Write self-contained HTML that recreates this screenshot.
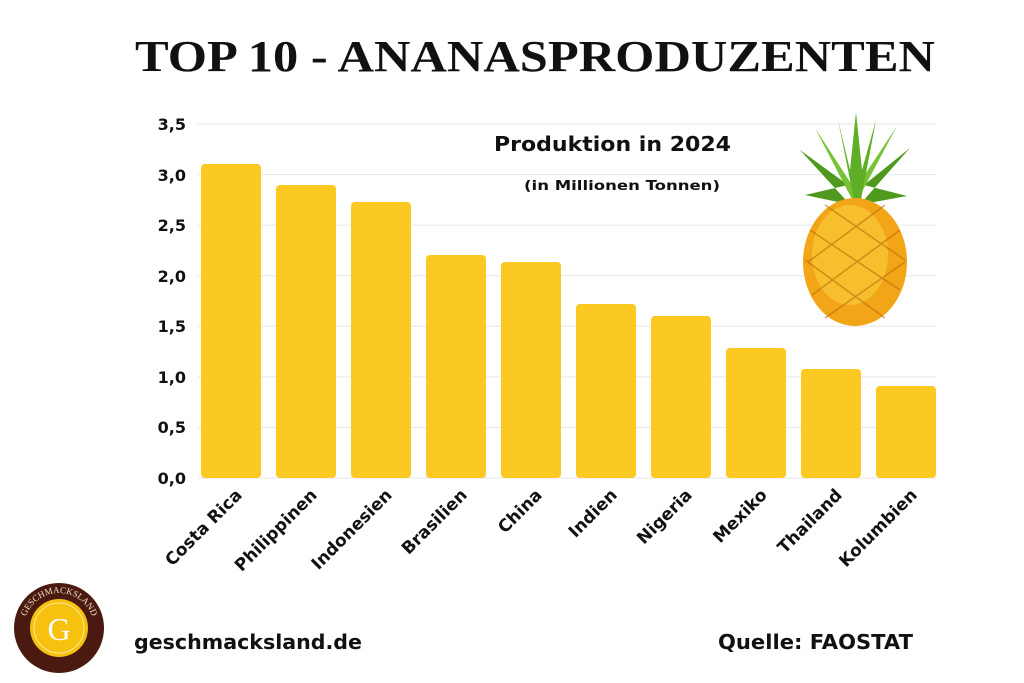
<!DOCTYPE html>
<html><head><meta charset="utf-8"><style>body{margin:0;background:#fff}svg{display:block}</style></head><body>
<svg width="1024" height="683" viewBox="0 0 1024 683" xmlns="http://www.w3.org/2000/svg" font-family="'DejaVu Sans','Liberation Sans',sans-serif">
<rect width="1024" height="683" fill="#fff"/>
<text x="135" y="71" font-family="'Liberation Serif',serif" font-weight="bold" font-size="44" textLength="800" lengthAdjust="spacingAndGlyphs" fill="#111">TOP 10 - ANANASPRODUZENTEN</text>
<g stroke="#e6e6e6" stroke-width="1">
<line x1="198" y1="124" x2="936" y2="124"/><line x1="198" y1="174.6" x2="936" y2="174.6"/><line x1="198" y1="225.1" x2="936" y2="225.1"/><line x1="198" y1="275.7" x2="936" y2="275.7"/><line x1="198" y1="326.3" x2="936" y2="326.3"/><line x1="198" y1="376.9" x2="936" y2="376.9"/><line x1="198" y1="427.4" x2="936" y2="427.4"/><line x1="198" y1="478" x2="936" y2="478"/>
</g>
<g font-weight="bold" font-size="16" fill="#111" text-anchor="end">
<text x="186" y="130">3,5</text><text x="186" y="181">3,0</text><text x="186" y="231">2,5</text><text x="186" y="282">2,0</text><text x="186" y="332">1,5</text><text x="186" y="383">1,0</text><text x="186" y="433">0,5</text><text x="186" y="484">0,0</text>
</g>
<g fill="#FCC922">
<rect x="201" y="164" width="60" height="314" rx="4"/>
<rect x="276" y="185" width="60" height="293" rx="4"/>
<rect x="351" y="202" width="60" height="276" rx="4"/>
<rect x="426" y="255" width="60" height="223" rx="4"/>
<rect x="501" y="262" width="60" height="216" rx="4"/>
<rect x="576" y="304" width="60" height="174" rx="4"/>
<rect x="651" y="316" width="60" height="162" rx="4"/>
<rect x="726" y="348" width="60" height="130" rx="4"/>
<rect x="801" y="369" width="60" height="109" rx="4"/>
<rect x="876" y="386" width="60" height="92" rx="4"/>
</g>
<g font-weight="bold" font-size="17" fill="#111" text-anchor="end">
<text transform="translate(243,496) rotate(-45)">Costa Rica</text>
<text transform="translate(318,496) rotate(-45)">Philippinen</text>
<text transform="translate(393,496) rotate(-45)">Indonesien</text>
<text transform="translate(468,496) rotate(-45)">Brasilien</text>
<text transform="translate(543,496) rotate(-45)">China</text>
<text transform="translate(618,496) rotate(-45)">Indien</text>
<text transform="translate(693,496) rotate(-45)">Nigeria</text>
<text transform="translate(768,496) rotate(-45)">Mexiko</text>
<text transform="translate(843,496) rotate(-45)">Thailand</text>
<text transform="translate(918,496) rotate(-45)">Kolumbien</text>
</g>
<text x="494" y="151" font-weight="bold" font-size="20" fill="#111" textLength="237" lengthAdjust="spacingAndGlyphs">Produktion in 2024</text>
<text x="524" y="190" font-weight="bold" font-size="13" fill="#111" textLength="196" lengthAdjust="spacingAndGlyphs">(in Millionen Tonnen)</text>
<!-- pineapple -->
<g>
<path d="M855 210 L800 150 L848 185 L805 195 L852 205Z" fill="#4f9a1e"/>
<path d="M855 210 L910 148 L864 185 L907 196 L858 205Z" fill="#4f9a1e"/>
<path d="M855 205 L815 128 L852 185Z M855 205 L897 126 L858 185Z" fill="#76c232"/>
<path d="M855 205 L838 120 L850 170 L856 112 L862 170 L876 120 L860 205Z" fill="#5fae27"/>
<ellipse cx="855" cy="262" rx="52" ry="64" fill="#f2a516"/>
<ellipse cx="850" cy="255" rx="38" ry="50" fill="#f8c535" opacity="0.8"/>
<g stroke="#b86a0a" stroke-width="1.5" fill="none" opacity="0.6">
<path d="M810 230 L900 290 M805 260 L885 318 M825 205 L905 260 M812 295 L900 230 M825 318 L905 262 M808 262 L885 205"/>
</g>
</g>
<!-- logo -->
<circle cx="59" cy="628" r="45" fill="#4a1a10"/>
<circle cx="59" cy="628" r="29" fill="#f6c20f"/>
<circle cx="59" cy="628" r="25" fill="none" stroke="#fff3b0" stroke-width="0.8"/>
<text x="59" y="640" text-anchor="middle" font-family="'Liberation Serif',serif" font-size="32" fill="#fff">G</text>
<path id="arc" d="M24 628 A35 35 0 0 1 94 628" fill="none"/>
<text font-family="'Liberation Serif',serif" font-size="9" fill="#f0e0c0"><textPath href="#arc" startOffset="50%" text-anchor="middle">GESCHMACKSLAND</textPath></text>
<text x="134" y="649" font-weight="bold" font-size="20" fill="#111" textLength="228" lengthAdjust="spacingAndGlyphs">geschmacksland.de</text>
<text x="718" y="649" font-weight="bold" font-size="20" fill="#111" textLength="195" lengthAdjust="spacingAndGlyphs">Quelle: FAOSTAT</text>
</svg>
</body></html>
